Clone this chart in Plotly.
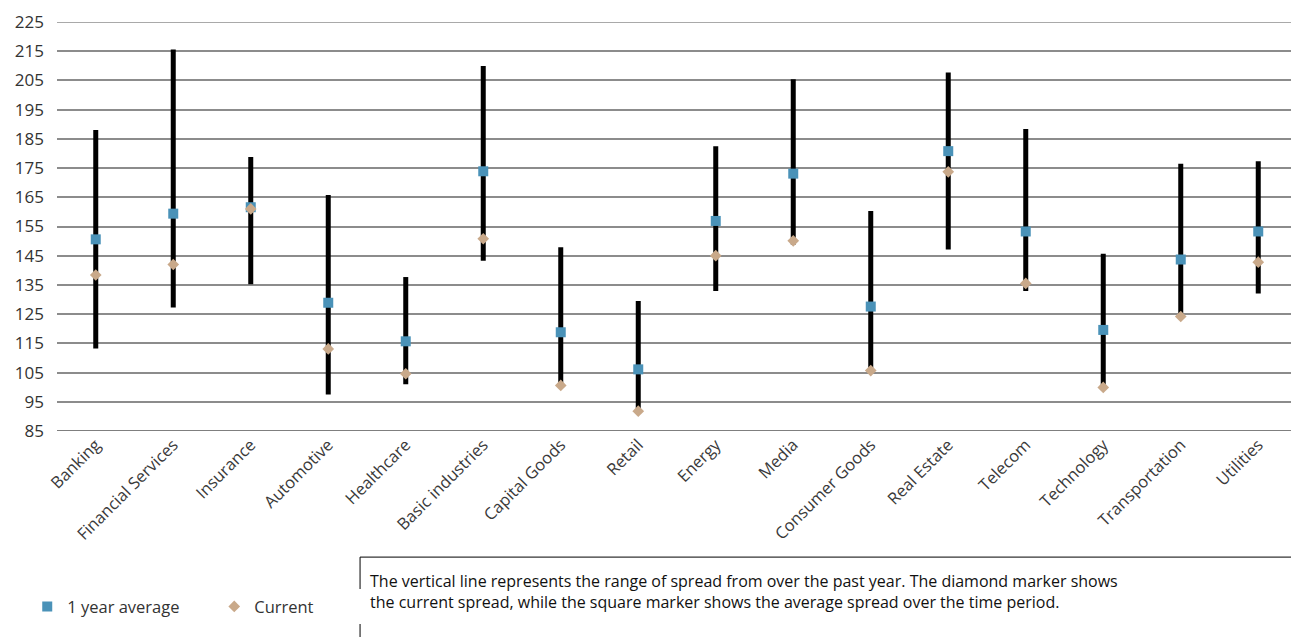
import plotly.graph_objects as go

categories = ["Banking", "Financial Services", "Insurance", "Automotive", "Healthcare",
              "Basic industries", "Capital Goods", "Retail", "Energy", "Media",
              "Consumer Goods", "Real Estate", "Telecom", "Technology", "Transportation",
              "Utilities"]
range_high = [188, 215.6, 178.8, 165.8, 137.7, 209.9, 147.9, 129.5, 182.5, 205.4,
              160.3, 207.7, 188.4, 145.7, 176.5, 177.3]
range_low = [113.2, 127.3, 135.2, 97.5, 101, 143.3, 100.8, 92.7, 132.9, 148.8,
             105.7, 147.1, 132.9, 100.1, 124.3, 132.1]
avg_1y = [150.6, 159.4, 161.6, 128.9, 115.7, 173.9, 118.8, 106.1, 156.9, 173.1,
          127.6, 180.8, 153.3, 119.6, 143.7, 153.3]
current = [138.4, 142.0, 161.0, 113.1, 104.6, 150.8, 100.6, 91.8, 145.0, 150.1,
           105.7, 173.7, 135.5, 99.9, 124.2, 142.8]
y_ticks = list(range(85, 226, 10))
note_text = ("The vertical line represents the range of spread from over the past year. The diamond marker shows<br>"
             "the current spread, while the square marker shows the average spread over the time period.")

FONT = "Open Sans"

line_x, line_y = [], []
for c, lo, hi in zip(categories, range_low, range_high):
    line_x += [c, c, None]
    line_y += [lo, hi, None]

fig = go.Figure()
fig.add_trace(go.Scatter(x=line_x, y=line_y, mode="lines",
                         line=dict(color="black", width=5), showlegend=False,
                         hoverinfo="skip"))
fig.add_trace(go.Scatter(x=categories, y=avg_1y, mode="markers", name="1 year average",
                         marker=dict(symbol="square", size=10, color="#4a92b8")))
fig.add_trace(go.Scatter(x=categories, y=current, mode="markers", name="Current",
                         marker=dict(symbol="diamond", size=9, color="#c9a98a")))

fig.update_layout(
    width=1291, height=629,
    margin=dict(l=49, r=2, t=11, b=206),
    paper_bgcolor="white", plot_bgcolor="white",
    font=dict(family=FONT, size=16, color="#222"),
    xaxis=dict(type="category", showgrid=False, tickangle=-45, ticks="",
               showline=False, tickfont=dict(size=16.5, color="#3a3a3a"),
               range=[-0.5, len(categories) - 0.5]),
    yaxis=dict(range=[85, 225], tickvals=y_ticks, showgrid=True, gridcolor="#8c8c8c",
               gridwidth=1.5, zeroline=False, showline=False, ticks="",
               tickfont=dict(size=17, color="#333"), ticklabelstandoff=12,
               ticklabeloverflow="allow"),
    legend=dict(orientation="h", x=-0.024, y=-0.4296, xanchor="left", yanchor="middle",
                font=dict(size=16.5, color="#333"), entrywidth=142, entrywidthmode="pixels"),
    shapes=[dict(type="rect", xref="paper", yref="paper", x0=0.2444, x1=1.01,
                 y0=-0.3083, y1=-0.53, line=dict(color="black", width=1),
                 fillcolor="white", layer="above")],
    annotations=[dict(xref="paper", yref="paper", x=0.2508, y=-0.3932, xanchor="left",
                      yanchor="middle", align="left", showarrow=False, text=note_text,
                      font=dict(size=16, color="#111"))],
)
fig.add_hline(y=85, line=dict(color="#555", width=1.5))
fig.add_hline(y=225, line=dict(color="#8c8c8c", width=1.5), layer="below")

fig.write_html("out.html")
